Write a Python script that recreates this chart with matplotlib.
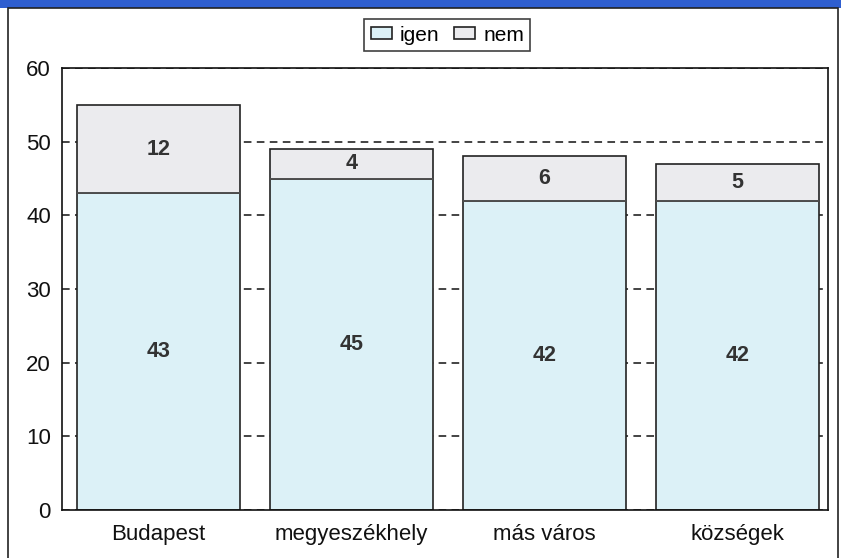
import matplotlib.pyplot as plt
from matplotlib.patches import Rectangle

categories = ['Budapest', 'megyeszékhely', 'más város', 'községek']
igen = [43, 45, 42, 42]
nem = [12, 4, 6, 5]
yticks = [0, 10, 20, 30, 40, 50, 60]

plt.rcParams['font.family'] = ['Liberation Sans', 'DejaVu Sans']

fig = plt.figure(figsize=(8.41, 5.58), dpi=100)
ax = fig.add_axes([0.0737, 0.086, 0.911, 0.792])

# figure frame and blue band on top
fig.patches.append(Rectangle((0, 0.985), 1, 0.015, transform=fig.transFigure,
                             facecolor='#2f5fd0', edgecolor='none', zorder=0))
fig.patches.append(Rectangle((0.009, -0.01), 0.988, 0.995, transform=fig.transFigure,
                             facecolor='none', edgecolor='#222222', linewidth=1.2, zorder=0))

x = range(len(categories))
width = 0.845
ax.bar(x, igen, width, color='#dcf1f7', edgecolor='#222222', linewidth=1.2,
       label='igen', zorder=2)
ax.bar(x, nem, width, bottom=igen, color='#ebebee', edgecolor='#222222',
       linewidth=1.2, label='nem', zorder=2)
# segment divider lines a bit lighter
for i in x:
    ax.plot([i - width / 2, i + width / 2], [igen[i], igen[i]], color='#555555',
            linewidth=1.2, zorder=3)

for i in x:
    ax.text(i, igen[i] / 2, str(igen[i]), ha='center', va='center',
            fontsize=15.5, fontweight='bold', color='#333333', zorder=4)
    ax.text(i, igen[i] + nem[i] / 2, str(nem[i]), ha='center', va='center',
            fontsize=15.5, fontweight='bold', color='#333333', zorder=4)

ax.set_xlim(-0.5, 3.47)
ax.set_ylim(0, 60)
ax.set_yticks(yticks)
ax.set_xticks(list(x))
ax.set_xticklabels(categories)
ax.tick_params(axis='both', length=0, labelsize=16, colors='#111111')
ax.tick_params(axis='x', pad=10)
ax.tick_params(axis='y', pad=8)
ax.yaxis.grid(True, linestyle=(0, (5, 3.5)), color='#111111', linewidth=1.1, zorder=1)
ax.set_axisbelow(True)
for s in ax.spines.values():
    s.set_color('#111111')
    s.set_linewidth(1.2)

leg = fig.legend(loc='center', bbox_to_anchor=(0.532, 0.937), ncol=2,
                 fontsize=15, frameon=True, fancybox=False, edgecolor='#111111',
                 handlelength=1.0, handleheight=0.5, handletextpad=0.4,
                 columnspacing=0.7, borderpad=0.3, borderaxespad=0)
leg.get_frame().set_linewidth(1.2)

fig.savefig('out.png', dpi=100)
